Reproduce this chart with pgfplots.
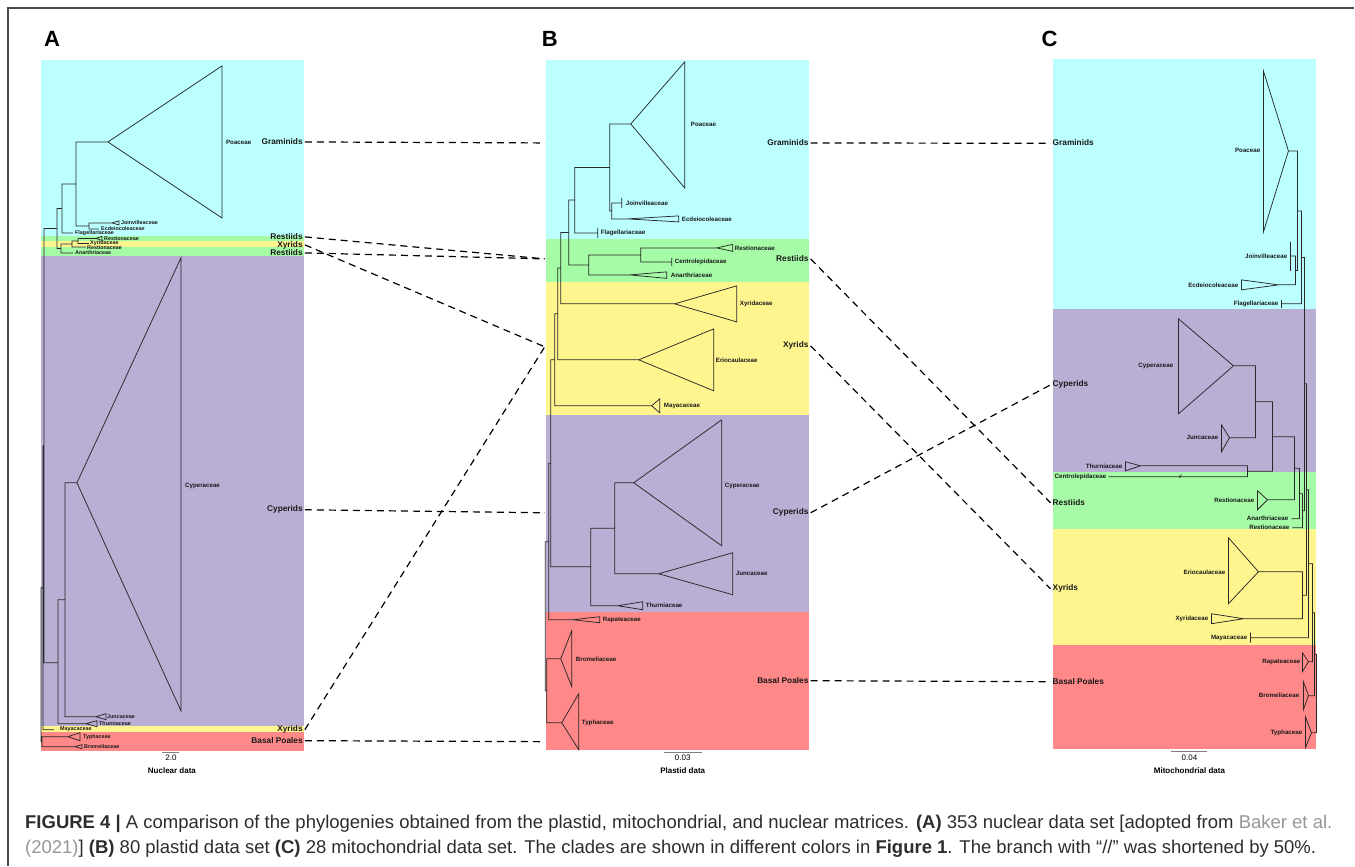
\documentclass[border=0pt]{standalone}
\usepackage{pgfplots}
\pgfplotsset{compat=1.18}
\usepackage{fontspec}
\setmainfont{Liberation Sans}
\definecolor{bgcyan}{RGB}{187,255,255}
\definecolor{bggreen}{RGB}{166,251,166}
\definecolor{bgyellow}{RGB}{255,245,143}
\definecolor{bgpurple}{RGB}{185,174,212}
\definecolor{bgred}{RGB}{255,136,136}
\definecolor{treec}{RGB}{40,40,40}
\definecolor{capc}{RGB}{45,45,45}
\definecolor{linkc}{RGB}{150,150,150}
\pgfplotsset{tr/.style={draw=treec, line width=0.75pt, mark=none, unbounded coords=jump},
  bg/.style={draw=none, mark=none},
  dl/.style={draw=black, line width=1.2pt, mark=none, dash pattern=on 7pt off 5pt},
  sb/.style={draw=gray, line width=1pt, mark=none}}
\tikzset{fl/.style={font=\fontsize{6.2}{6.2}\selectfont\bfseries, inner sep=0pt, text=black!90},
  fa/.style={font=\fontsize{5.4}{5.4}\selectfont\bfseries, inner sep=0pt, text=black!90},
  cl/.style={font=\fontsize{8.3}{8.3}\selectfont\bfseries, inner sep=0pt, text=black!90}}
\newcommand{\fw}[3]{\node[fl,anchor=west] at (axis cs:#1,#2) {#3};}
\newcommand{\fa}[3]{\node[fa,anchor=west] at (axis cs:#1,#2) {#3};}
\newcommand{\fe}[3]{\node[fl,anchor=east] at (axis cs:#1,#2) {#3};}
\newcommand{\cw}[3]{\node[cl,anchor=west] at (axis cs:#1,#2) {#3};}
\newcommand{\ce}[3]{\node[cl,anchor=east] at (axis cs:#1,#2) {#3};}
\begin{document}
\begin{tikzpicture}
\begin{axis}[x=1pt, y=1pt, y dir=reverse, xmin=0, xmax=1355, ymin=0, ymax=866, hide axis, clip=false]
\addplot[fill=white, draw=none] coordinates {(0,0) (1355,0) (1355,866) (0,866)};
% frame
\addplot[draw=gray!60!black, line width=1.2pt, mark=none] coordinates {(8,866) (8,8) (1355,8)};
% ---------- backgrounds A
\addplot[bg, fill=bgcyan] coordinates {(41,60) (304,60) (304,236) (41,236)};
\addplot[bg, fill=bggreen] coordinates {(41,236) (304,236) (304,241) (41,241)};
\addplot[bg, fill=bgyellow] coordinates {(41,241) (304,241) (304,247) (41,247)};
\addplot[bg, fill=bggreen] coordinates {(41,247) (304,247) (304,256) (41,256)};
\addplot[bg, fill=bgpurple] coordinates {(41,256) (304,256) (304,726.5) (41,726.5)};
\addplot[bg, fill=bgyellow] coordinates {(41,726.5) (304,726.5) (304,732.5) (41,732.5)};
\addplot[bg, fill=bgred] coordinates {(41,732.5) (304,732.5) (304,751) (41,751)};
% ---------- backgrounds B
\addplot[bg, fill=bgcyan] coordinates {(546,60) (809,60) (809,239) (546,239)};
\addplot[bg, fill=bggreen] coordinates {(546,239) (809,239) (809,282) (546,282)};
\addplot[bg, fill=bgyellow] coordinates {(546,282) (809,282) (809,415) (546,415)};
\addplot[bg, fill=bgpurple] coordinates {(546,415) (809,415) (809,612) (546,612)};
\addplot[bg, fill=bgred] coordinates {(546,612) (809,612) (809,750) (546,750)};
% ---------- backgrounds C
\addplot[bg, fill=bgcyan] coordinates {(1053,59) (1317,59) (1317,309) (1053,309)};
\addplot[bg, fill=bgpurple] coordinates {(1053,309) (1317,309) (1317,472) (1053,472)};
\addplot[bg, fill=bggreen] coordinates {(1053,472) (1317,472) (1317,529) (1053,529)};
\addplot[bg, fill=bgyellow] coordinates {(1053,529) (1317,529) (1317,645) (1053,645)};
\addplot[bg, fill=bgred] coordinates {(1053,645) (1317,645) (1317,749) (1053,749)};
% ---------- tree A
\addplot[tr] coordinates {
(108,142)(222,66)(222,218)(108,142)(76,142)(76,226)(89,226) (nan,nan)
(112,223)(89,223)(89,229)(99,229) (nan,nan)
(112,223)(119,221)(119,225)(112,223) (nan,nan)
(76,184)(62,184)(62,233)(73,233) (nan,nan)
(96,238.5)(78,238.5)(78,243.5)(89,243.5) (nan,nan)
(96,238.5)(102,236.5)(102,240.5)(96,238.5) (nan,nan)
(78,241)(72,241)(72,247)(86,247) (nan,nan)
(72,244)(61,244)(61,253)(73,253) (nan,nan)
(62,208.5)(57,208.5)(57,248.5)(61,248.5) (nan,nan)
(57,228.5)(44,228.5)(44,663)(58,663) (nan,nan)
(77,483)(181,258)(181,711)(77,483)(65,483)(65,717)(96,717)(106,714)(106,720)(96,717) (nan,nan)
(65,600)(58,600)(58,724)(86,724)(97,721)(97,727)(86,724) (nan,nan)
(44,446)(43,446)(43,730)(54,730) (nan,nan)
(68,737)(80,733)(80,741)(68,737)(42,737)(42,747)(75,747)(82,745)(82,749)(75,747) (nan,nan)
(43,588)(41,588)(41,742)(42,742)
};
% ---------- tree B
\addplot[tr] coordinates {
(631,124)(685,62)(685,188)(631,124)(610,124)(610,211)(612,211) (nan,nan)
(622,203)(612,203)(612,219)(628,219)(679,216)(679,222)(628,219) (nan,nan)
(622,198)(622,208) (nan,nan)
(610,167.5)(575,167.5)(575,233)(598,233) (nan,nan)
(598,228)(598,238) (nan,nan)
(717,248)(641,248)(641,262)(672,262) (nan,nan)
(717,248)(733,244.5)(733,251.5)(717,248) (nan,nan)
(672,258)(672,266) (nan,nan)
(641,255)(589,255)(589,275)(630,275)(667,272)(667,278.5)(630,275) (nan,nan)
(575,200)(569,200)(569,265)(589,265) (nan,nan)
(569,232.5)(561,232.5)(561,304)(675,304)(737,286)(737,322)(675,304) (nan,nan)
(561,268)(558,268)(558,360)(639,360)(714,329)(714,391)(639,360) (nan,nan)
(558,314)(555,314)(555,406)(652,406)(660,399)(660,413)(652,406) (nan,nan)
(722,420)(634,483)(722,546)(722,420) (nan,nan)
(634,483)(615,483)(615,574)(659,574)(733,553)(733,595)(659,574) (nan,nan)
(615,528.5)(591,528.5)(591,606)(618,606)(643,602)(643,610)(618,606) (nan,nan)
(555,360)(551,360)(551,567)(591,567) (nan,nan)
(551,463.5)(549,463.5)(549,620)(573,620)(600,617)(600,623)(573,620) (nan,nan)
(561,659)(572,631)(572,687)(561,659)(547,659)(547,723)(562,723)(579,694)(579,750)(562,723) (nan,nan)
(549,542)(545.5,542)(545.5,691)(547,691)
};
% ---------- tree C
\addplot[tr] coordinates {
(1289,151)(1264,71)(1264,232)(1289,151)(1298,151)(1298,270.5)(1296,270.5) (nan,nan)
(1291,256)(1296,256)(1296,285)(1279,285)(1242,280)(1242,290)(1279,285) (nan,nan)
(1291,242)(1291,271) (nan,nan)
(1298,211)(1302,211)(1302,304)(1282,304) (nan,nan)
(1282,300)(1282,308) (nan,nan)
(1234,366)(1179,319)(1179,414)(1234,366)(1256,366)(1256,438)(1230,438)(1222,425)(1222,452)(1230,438) (nan,nan)
(1141,466)(1126,462)(1126,471)(1141,466)(1248,466)(1248,477)(1109,477) (nan,nan)
(1256,402)(1273,402)(1273,471.5)(1248,471.5) (nan,nan)
(1273,437)(1295,437)(1295,500)(1268,500)(1258,491)(1258,510)(1268,500) (nan,nan)
(1295,468.5)(1300,468.5)(1300,519)(1292,519) (nan,nan)
(1300,494)(1303,494)(1303,528)(1293,528) (nan,nan)
(1302,257.5)(1305,257.5)(1305,511)(1303,511) (nan,nan)
(1259,572)(1229,538)(1229,604)(1259,572)(1303,572)(1303,619)(1244,619)(1212,614)(1212,624)(1244,619) (nan,nan)
(1305,384)(1307,384)(1307,595.5)(1303,595.5) (nan,nan)
(1307,490)(1309,490)(1309,638)(1251,638) (nan,nan)
(1251,633)(1251,643) (nan,nan)
(1309,564)(1313,564)(1313,662)(1309,662)(1303,653)(1303,672)(1309,662) (nan,nan)
(1313,613)(1315,613)(1315,696)(1309,696)(1304,682)(1304,710)(1309,696) (nan,nan)
(1315,654.5)(1317,654.5)(1317,733)(1312,733)(1306,717)(1306,748)(1312,733)
};
% ---------- dashed connectors
\addplot[dl] coordinates {(305,142) (545,143)};
\addplot[dl] coordinates {(305,237) (545,259)};
\addplot[dl] coordinates {(305,245) (545,347)};
\addplot[dl] coordinates {(305,253) (545,259)};
\addplot[dl] coordinates {(305,510) (545,513)};
\addplot[dl] coordinates {(305,730) (545,347)};
\addplot[dl] coordinates {(305,741) (545,742)};
\addplot[dl] coordinates {(811,143) (1051,143.4)};
\addplot[dl] coordinates {(811,259) (1051,503)};
\addplot[dl] coordinates {(811,346) (1051,589)};
\addplot[dl] coordinates {(811,513) (1051,385)};
\addplot[dl] coordinates {(811,681) (1051,682)};
% ---------- scale bars
\addplot[sb] coordinates {(162,753) (179,753)};
\addplot[sb] coordinates {(664,753) (702,753)};
\addplot[sb] coordinates {(1172,752) (1208,752)};
% ---------- labels A
\fw{226}{142}{Poaceae}
\fa{121}{222.5}{Joinvilleaceae}
\fa{101}{228.5}{Ecdeiocoleaceae}
\fa{75}{233.5}{Flagellariaceae}
\fa{104}{238.5}{Restionaceae}
\fa{90}{243}{Xyridaceae}
\fa{87}{248}{Restionaceae}
\fa{75}{253}{Anarthriaceae}
\fw{185}{486}{Cyperaceae}
\fa{107}{717}{Juncaceae}
\fa{99}{724}{Thurniaceae}
\fa{60}{730}{Mayacaceae}
\fa{83}{737}{Typhaceae}
\fa{84}{747}{Bromeliaceae}
\ce{303}{142}{Graminids}
\ce{303}{237}{Restiids}
\ce{303}{245}{Xyrids}
\ce{303}{253}{Restiids}
\ce{303}{510}{Cyperids}
\ce{303}{730}{Xyrids}
\ce{303}{741}{Basal Poales}
% ---------- labels B
\fw{691}{124}{Poaceae}
\fw{626}{203}{Joinvilleaceae}
\fw{682}{219}{Ecdeiocoleaceae}
\fw{601}{233}{Flagellariaceae}
\fw{735}{248}{Restionaceae}
\fw{675}{262}{Centrolepidaceae}
\fw{671}{275}{Anarthriaceae}
\fw{740}{304}{Xyridaceae}
\fw{716}{360}{Eriocaulaceae}
\fw{664}{406}{Mayacaceae}
\fw{725}{486}{Cyperaceae}
\fw{736}{574}{Juncaceae}
\fw{646}{606}{Thurniaceae}
\fw{603}{620}{Rapateaceae}
\fw{576}{660}{Bromeliaceae}
\fw{582}{723}{Typhaceae}
\ce{809}{143}{Graminids}
\ce{809}{259}{Restiids}
\ce{809}{346}{Xyrids}
\ce{809}{513}{Cyperids}
\ce{809}{681}{Basal Poales}
% ---------- labels C
\fe{1261}{150}{Poaceae}
\fe{1288}{256}{Joinvilleaceae}
\fe{1239}{285}{Ecdeiocoleaceae}
\fe{1279}{304}{Flagellariaceae}
\fe{1174}{366}{Cyperaceae}
\fe{1219}{438}{Juncaceae}
\fe{1123}{466}{Thurniaceae}
\fe{1107}{477}{Centrolepidaceae}
\fe{1255}{501}{Restionaceae}
\fe{1289}{519}{Anarthriaceae}
\fe{1290}{528}{Restionaceae}
\fe{1226}{573}{Eriocaulaceae}
\fe{1209}{619}{Xyridaceae}
\fe{1248}{638}{Mayacaceae}
\fe{1301}{662}{Rapateaceae}
\fe{1300}{696}{Bromeliaceae}
\fe{1303}{733}{Typhaceae}
\node[font=\fontsize{5}{5}\selectfont, inner sep=0pt] at (axis cs:1181,477) {//};
\cw{1053}{143}{Graminids}
\cw{1053}{385}{Cyperids}
\cw{1053}{503}{Restiids}
\cw{1053}{589}{Xyrids}
\cw{1053}{682}{Basal Poales}
% ---------- panel letters
\node[font=\fontsize{22}{22}\selectfont\bfseries, anchor=base west, inner sep=0pt] at (axis cs:44,47) {A};
\node[font=\fontsize{22}{22}\selectfont\bfseries, anchor=base west, inner sep=0pt] at (axis cs:542,47) {B};
\node[font=\fontsize{22}{22}\selectfont\bfseries, anchor=base west, inner sep=0pt] at (axis cs:1042,47) {C};
% ---------- scale labels
\node[font=\fontsize{8}{8}\selectfont, anchor=base, inner sep=0pt] at (axis cs:171,761) {2.0};
\node[font=\fontsize{8}{8}\selectfont\bfseries, anchor=base, inner sep=0pt] at (axis cs:172,774) {Nuclear data};
\node[font=\fontsize{8}{8}\selectfont, anchor=base, inner sep=0pt] at (axis cs:683,761) {0.03};
\node[font=\fontsize{8}{8}\selectfont\bfseries, anchor=base, inner sep=0pt] at (axis cs:683,774) {Plastid data};
\node[font=\fontsize{8}{8}\selectfont, anchor=base, inner sep=0pt] at (axis cs:1190,761) {0.04};
\node[font=\fontsize{8}{8}\selectfont\bfseries, anchor=base, inner sep=0pt] at (axis cs:1190,774) {Mitochondrial data};
% ---------- caption
\node[font=\fontsize{18.5}{20}\selectfont, anchor=base west, inner sep=0pt, text=capc] at (axis cs:25,829) {\textbf{FIGURE 4 |} A comparison of the phylogenies obtained from the plastid, mitochondrial, and nuclear matrices. \textbf{(A)} 353 nuclear data set [adopted from \textcolor{linkc}{Baker et al.}};
\node[font=\fontsize{18.5}{20}\selectfont, anchor=base west, inner sep=0pt, text=capc] at (axis cs:25,854) {\textcolor{linkc}{(2021)}] \textbf{(B)} 80 plastid data set \textbf{(C)} 28 mitochondrial data set. The clades are shown in different colors in \textbf{Figure 1}. The branch with “//” was shortened by 50\%.};
\end{axis}
\end{tikzpicture}
\end{document}
